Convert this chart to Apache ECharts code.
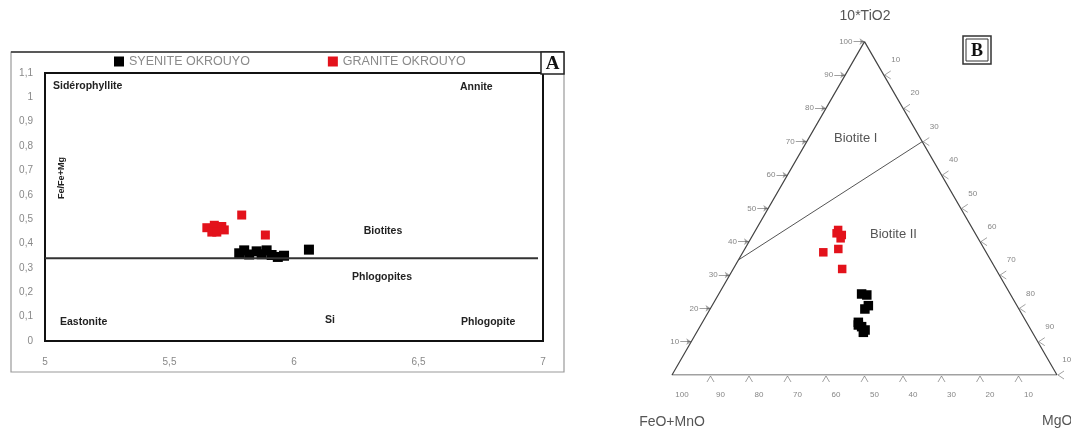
<!DOCTYPE html>
<html><head><meta charset="utf-8">
<script src="https://cdn.jsdelivr.net/npm/echarts@6/dist/echarts.min.js"></script>
<style>html,body{margin:0;padding:0;background:#fff}#c{width:1071px;height:432px}</style>
</head><body><div id="c"></div>
<script>
// ---------- Panel A : Fe/(Fe+Mg) vs Si ----------
const syeniteSi = [5.78, 5.80, 5.82, 5.85, 5.87, 5.89, 5.91, 5.935, 5.96, 6.06];
const syeniteFe = [0.36, 0.372, 0.355, 0.368, 0.356, 0.372, 0.353, 0.345, 0.35, 0.375];
const graniteSi = [5.65, 5.68, 5.71, 5.67, 5.69, 5.72, 5.79, 5.885];
const graniteFe = [0.465, 0.475, 0.47, 0.447, 0.447, 0.456, 0.517, 0.435];
const boundarySi = [5, 6.98];
const boundaryFe = [0.34, 0.34];
const seriesNames = ['SYENITE OKROUYO', 'GRANITE OKROUYO'];

// ---------- Panel B : ternary 10*TiO2 - FeO+MnO - MgO (percent) ----------
const graniteTi  = [43.5, 42.0, 41.0, 42.5, 36.8, 37.8, 31.8];
const graniteFeO = [35.1, 34.9, 35.7, 36.0, 42.3, 37.9, 39.9];
const graniteMgO = [21.4, 23.1, 23.3, 21.5, 20.9, 24.3, 28.3];
const syeniteTi  = [24.3, 24.0, 20.8, 19.8, 15.8, 14.5, 13.5, 12.8, 15.0];
const syeniteFeO = [38.6, 37.4, 38.6, 40.0, 43.7, 43.5, 43.1, 43.9, 44.1];
const syeniteMgO = [37.1, 38.6, 40.6, 40.2, 40.5, 42.0, 43.4, 43.3, 40.9];
const dividerTi  = [34.5, 70];
const dividerFeO = [65.5, 0];
const dividerMgO = [0, 30];
const leftTicks   = [10, 20, 30, 40, 50, 60, 70, 80, 90, 100];   // 10*TiO2 on left edge
const rightTicks  = [10, 20, 30, 40, 50, 60, 70, 80, 90, 100];   // MgO on right edge
const bottomTicks = [100, 90, 80, 70, 60, 50, 40, 30, 20, 10];   // FeO+MnO on base

const S3 = Math.sqrt(3) / 2;
function tern(t, f, m) { const s = t + f + m; return [(m + t / 2) / s * 100, (t * S3) / s * 100]; }
const U = 1 / 3.85; // one pixel in ternary units

const fmtA = v => String(Number(v.toFixed(1))).replace('.', ',');

const triangle = [tern(100,0,0), tern(0,100,0), tern(0,0,100), tern(100,0,0)];
const divider = dividerTi.map((t, i) => tern(t, dividerFeO[i], dividerMgO[i]));

const leftArrows = leftTicks.map(v => { const e = tern(v, 100 - v, 0); return {coords: [[e[0] - 11 * U, e[1]], [e[0], e[1]]]}; });
const bottomChev = [];
bottomTicks.forEach(f => { if (f === 100) return; const e = tern(0, f, 100 - f);
  bottomChev.push({coords: [[e[0] - 3.5 * U, e[1] - 7 * U], [e[0], e[1] - 1 * U]]});
  bottomChev.push({coords: [[e[0] + 3.5 * U, e[1] - 7 * U], [e[0], e[1] - 1 * U]]}); });
const rightChev = [];
rightTicks.forEach(m => { const e = tern(100 - m, 0, m);
  rightChev.push({coords: [[e[0] + 7 * U, e[1] + 4 * U], [e[0] + 1 * U, e[1]]]});
  rightChev.push({coords: [[e[0] + 7 * U, e[1] - 4 * U], [e[0] + 1 * U, e[1]]]}); });

const leftLabelData = leftTicks.map(v => { const e = tern(v, 100 - v, 0); return [e[0] - 11 * U, e[1], v]; });
const rightLabelData = rightTicks.map(m => { const e = tern(100 - m, 0, m); return [e[0] + 12 * U, e[1] + 15 * U, m]; });
const bottomLabelData = bottomTicks.map(f => { const e = tern(0, f, 100 - f); return [e[0] + 10 * U, e[1] - 20 * U, f]; });

const tickStyle = {color: '#444', width: 1};
const chart = echarts.init(document.getElementById('c'), null, {renderer: 'canvas'});
const option = {
  backgroundColor: '#fff',
  animation: false,
  legend: {
    data: seriesNames.map(n => ({name: n, icon: 'rect'})),
    left: 114, top: 55, padding: 0, itemWidth: 10, itemHeight: 10, itemGap: 78,
    textStyle: {color: '#8a8a8a', fontSize: 12.5, fontFamily: 'Liberation Sans'}
  },
  grid: [
    {left: 45, top: 73, width: 498, height: 268, show: true, borderColor: '#111', borderWidth: 2, backgroundColor: 'transparent'},
    {left: 672, top: 41.6, width: 385, height: 333.4, show: false}
  ],
  xAxis: [
    {gridIndex: 0, type: 'value', min: 5, max: 7, interval: 0.5,
     axisLine: {show: false}, axisTick: {show: false}, splitLine: {show: false},
     axisLabel: {color: '#888', fontSize: 10, margin: 16, formatter: fmtA, fontFamily: 'Liberation Sans'}},
    {gridIndex: 1, type: 'value', min: 0, max: 100, show: false}
  ],
  yAxis: [
    {gridIndex: 0, type: 'value', min: 0, max: 1.1, interval: 0.1,
     axisLine: {show: false}, axisTick: {show: false}, splitLine: {show: false},
     axisLabel: {color: '#888', fontSize: 10, margin: 12, formatter: fmtA, fontFamily: 'Liberation Sans'}},
    {gridIndex: 1, type: 'value', min: 0, max: 86.6025, show: false}
  ],
  series: [
    {name: 'boundary', type: 'line', xAxisIndex: 0, yAxisIndex: 0, symbol: 'none', silent: true,
     data: boundarySi.map((x, i) => [x, boundaryFe[i]]), lineStyle: {color: '#333', width: 2}},
    {name: seriesNames[0], type: 'scatter', xAxisIndex: 0, yAxisIndex: 0, symbol: 'rect', symbolSize: 10,
     itemStyle: {color: '#000', opacity: 1}, data: syeniteSi.map((x, i) => [x, syeniteFe[i]])},
    {name: seriesNames[1], type: 'scatter', xAxisIndex: 0, yAxisIndex: 0, symbol: 'rect', symbolSize: 9,
     itemStyle: {color: '#e3121b', opacity: 1}, data: graniteSi.map((x, i) => [x, graniteFe[i]])},

    {name: 'triangle', type: 'line', xAxisIndex: 1, yAxisIndex: 1, symbol: 'none', silent: true,
     data: triangle, lineStyle: {color: '#444', width: 1.2}},
    {name: 'divider', type: 'line', xAxisIndex: 1, yAxisIndex: 1, symbol: 'none', silent: true,
     data: divider, lineStyle: {color: '#555', width: 1}},
    {name: 'leftTicks', type: 'lines', coordinateSystem: 'cartesian2d', xAxisIndex: 1, yAxisIndex: 1, silent: true, clip: false,
     symbol: ['none', 'arrow'], symbolSize: 5, lineStyle: tickStyle, data: leftArrows},
    {name: 'bottomTicks', type: 'lines', coordinateSystem: 'cartesian2d', xAxisIndex: 1, yAxisIndex: 1, silent: true, clip: false,
     lineStyle: tickStyle, data: bottomChev},
    {name: 'rightTicks', type: 'lines', coordinateSystem: 'cartesian2d', xAxisIndex: 1, yAxisIndex: 1, silent: true, clip: false,
     lineStyle: tickStyle, data: rightChev},
    {name: 'leftLabels', type: 'scatter', xAxisIndex: 1, yAxisIndex: 1, symbolSize: 0, silent: true, clip: false,
     data: leftLabelData, label: {show: true, position: 'left', distance: 1, formatter: p => p.data[2], color: '#666', fontSize: 8}},
    {name: 'rightLabels', type: 'scatter', xAxisIndex: 1, yAxisIndex: 1, symbolSize: 0, silent: true, clip: false,
     data: rightLabelData, label: {show: true, position: 'inside', formatter: p => p.data[2], color: '#666', fontSize: 8}},
    {name: 'bottomLabels', type: 'scatter', xAxisIndex: 1, yAxisIndex: 1, symbolSize: 0, silent: true, clip: false,
     data: bottomLabelData, label: {show: true, position: 'inside', formatter: p => p.data[2], color: '#666', fontSize: 8}},
    {name: 'Granite (ternary)', type: 'scatter', xAxisIndex: 1, yAxisIndex: 1, symbol: 'rect', symbolSize: 8.5,
     itemStyle: {color: '#e3121b', opacity: 1}, data: graniteTi.map((t, i) => tern(t, graniteFeO[i], graniteMgO[i]))},
    {name: 'Syenite (ternary)', type: 'scatter', xAxisIndex: 1, yAxisIndex: 1, symbol: 'rect', symbolSize: 9.5,
     itemStyle: {color: '#000', opacity: 1}, data: syeniteTi.map((t, i) => tern(t, syeniteFeO[i], syeniteMgO[i]))}
  ],
  graphic: [
    {type: 'rect', shape: {x: 11, y: 52, width: 553, height: 320}, style: {fill: 'none', stroke: '#9a9a9a', lineWidth: 1.2}, silent: true},
    {type: 'line', shape: {x1: 11, y1: 52, x2: 564, y2: 52}, style: {stroke: '#333', lineWidth: 1.5}, silent: true},
    {type: 'rect', shape: {x: 541, y: 52, width: 23, height: 22}, style: {fill: '#fff', stroke: '#222', lineWidth: 1.5}, silent: true},
    {type: 'text', x: 552.5, y: 64, style: {text: 'A', fill: '#111', font: 'bold 19px "Liberation Serif"', align: 'center', verticalAlign: 'middle'}, silent: true},
    {type: 'text', x: 53, y: 86, style: {text: 'Sidérophyllite', fill: '#222', font: 'bold 10.5px "Liberation Sans"', verticalAlign: 'middle'}},
    {type: 'text', x: 460, y: 87, style: {text: 'Annite', fill: '#222', font: 'bold 10.5px "Liberation Sans"', verticalAlign: 'middle'}},
    {type: 'text', x: 383, y: 231, style: {text: 'Biotites', fill: '#222', font: 'bold 10.5px "Liberation Sans"', align: 'center', verticalAlign: 'middle'}},
    {type: 'text', x: 382, y: 277, style: {text: 'Phlogopites', fill: '#222', font: 'bold 10.5px "Liberation Sans"', align: 'center', verticalAlign: 'middle'}},
    {type: 'text', x: 60, y: 322, style: {text: 'Eastonite', fill: '#222', font: 'bold 10.5px "Liberation Sans"', verticalAlign: 'middle'}},
    {type: 'text', x: 330, y: 320, style: {text: 'Si', fill: '#222', font: 'bold 10.5px "Liberation Sans"', align: 'center', verticalAlign: 'middle'}},
    {type: 'text', x: 461, y: 322, style: {text: 'Phlogopite', fill: '#222', font: 'bold 10.5px "Liberation Sans"', verticalAlign: 'middle'}},
    {type: 'text', x: 62, y: 178, rotation: Math.PI / 2, style: {text: 'Fe/Fe+Mg', fill: '#222', font: 'bold 9px "Liberation Sans"', align: 'center', verticalAlign: 'middle'}},
    {type: 'text', x: 865, y: 16, style: {text: '10*TiO2', fill: '#555', font: '14px "Liberation Sans"', align: 'center', verticalAlign: 'middle'}},
    {type: 'text', x: 672, y: 422, style: {text: 'FeO+MnO', fill: '#555', font: '14px "Liberation Sans"', align: 'center', verticalAlign: 'middle'}},
    {type: 'text', x: 1042, y: 421, style: {text: 'MgO', fill: '#555', font: '14px "Liberation Sans"', verticalAlign: 'middle'}},
    {type: 'text', x: 834, y: 138, style: {text: 'Biotite I', fill: '#555', font: '13px "Liberation Sans"', verticalAlign: 'middle'}},
    {type: 'text', x: 870, y: 234, style: {text: 'Biotite II', fill: '#555', font: '13px "Liberation Sans"', verticalAlign: 'middle'}},
    {type: 'rect', shape: {x: 963, y: 36, width: 28, height: 28}, style: {fill: 'none', stroke: '#333', lineWidth: 1.5}, silent: true},
    {type: 'rect', shape: {x: 966, y: 39, width: 22, height: 22}, style: {fill: 'none', stroke: '#333', lineWidth: 1}, silent: true},
    {type: 'text', x: 977, y: 51, style: {text: 'B', fill: '#111', font: 'bold 18px "Liberation Serif"', align: 'center', verticalAlign: 'middle'}, silent: true}
  ]
};
chart.setOption(option);
</script>
</body></html>
